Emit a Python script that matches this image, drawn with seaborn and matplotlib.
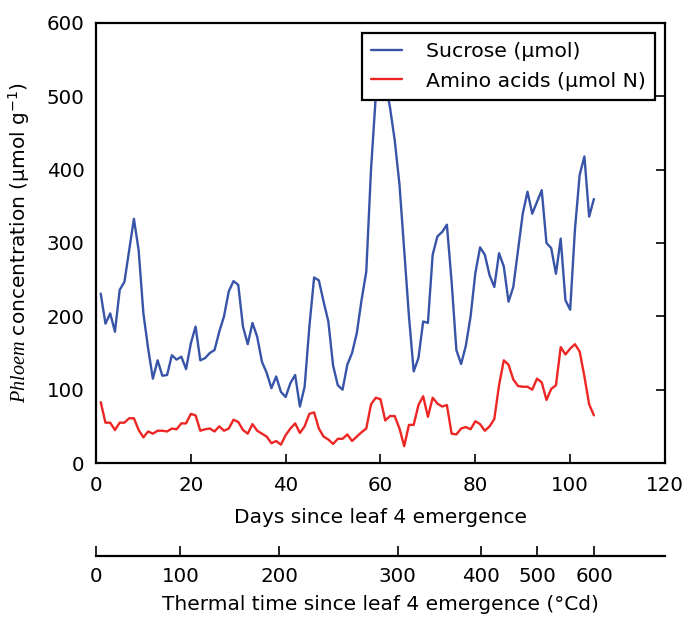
import numpy as np
import pandas as pd
import matplotlib
matplotlib.use("Agg")
import matplotlib.pyplot as plt
import seaborn as sns

# Daily phloem sap concentrations after leaf 4 emergence
days = list(range(1, 106))

sucrose = [
    231, 190, 204, 179, 236, 247, 290, 333, 290, 204,
    156, 115, 140, 119, 120, 147, 141, 145, 128, 163,
    186, 140, 143, 150, 154, 179, 200, 234, 248, 243,
    186, 162, 191, 172, 138, 123, 102, 118, 97, 90,
    109, 120, 77, 104, 186, 253, 249, 220, 193, 133,
    106, 100, 134, 150, 177, 222, 261, 400, 500, 560,
    520, 485, 440, 380, 290, 200, 125, 143, 193, 191,
    284, 309, 315, 325, 247, 154, 135, 160, 200, 259,
    294, 284, 256, 240, 286, 268, 220, 240, 290, 340,
    370, 340, 356, 372, 300, 293, 258, 306, 222, 209,
    318, 393, 418, 336, 360,
]

amino_acids = [
    83, 55, 55, 45, 55, 55, 61, 61, 45, 35,
    43, 40, 44, 44, 43, 47, 46, 54, 54, 67,
    65, 44, 46, 47, 43, 50, 44, 47, 59, 56,
    45, 40, 53, 44, 40, 36, 27, 30, 25, 38,
    47, 54, 41, 50, 67, 69, 47, 36, 32, 26,
    33, 33, 39, 30, 36, 42, 47, 80, 89, 87,
    58, 64, 64, 47, 23, 52, 52, 79, 91, 63,
    89, 81, 77, 79, 40, 39, 47, 49, 46, 57,
    53, 44, 50, 60, 106, 140, 134, 114, 105, 104,
    104, 100, 115, 110, 86, 101, 106, 158, 148, 156,
    162, 152, 118, 80, 65,
]

series_labels = ["Sucrose (µmol)", "Amino acids (µmol N)"]
series_colors = ["#3754a8", "#ed2624"]

# Thermal time (°Cd) reached on a given day since leaf 4 emergence
thermal_ticks = [0, 100, 200, 300, 400, 500, 600]
thermal_tick_days = [0, 17.8, 38.6, 63.6, 81.2, 93.1, 105.1]

day_ticks = [0, 20, 40, 60, 80, 100, 120]
conc_ticks = [0, 100, 200, 300, 400, 500, 600]

sns.set_theme(style="white")
plt.rcParams.update({
    "font.family": ["DejaVu Sans"],
    "mathtext.fontset": "custom",
    "mathtext.it": "Liberation Serif:italic",
    "mathtext.rm": "DejaVu Sans",
    "font.size": 14,
    "axes.edgecolor": "black",
    "text.color": "black",
    "axes.labelcolor": "black",
    "xtick.color": "black",
    "ytick.color": "black",
})

df = pd.DataFrame({
    "day": days * 2,
    "conc": sucrose + amino_acids,
    "series": [series_labels[0]] * len(days) + [series_labels[1]] * len(days),
})

fig = plt.figure(figsize=(6.88, 6.18), dpi=100)
ax = fig.add_axes([0.1395, 0.2508, 0.8271, 0.712])

sns.lineplot(data=df, x="day", y="conc", hue="series",
             palette=dict(zip(series_labels, series_colors)),
             linewidth=1.7, ax=ax, legend=False)

ax.set_xlim(0, 120)
ax.set_ylim(0, 600)
ax.set_xticks(day_ticks)
ax.set_yticks(conc_ticks)
ax.tick_params(axis="both", direction="in", length=6.5, width=1.2,
               labelsize=14.3, colors="black")
ax.tick_params(axis="x", pad=9)
ax.tick_params(axis="y", pad=8, right=True)
for sp in ax.spines.values():
    sp.set_linewidth(1.6)
    sp.set_color("black")

ax.set_xlabel("Days since leaf 4 emergence", fontsize=14.5, labelpad=10)
ax.set_ylabel(r"$Phloem$ concentration (µmol g$^{-1}$)", fontsize=14.5,
              labelpad=11)

handles = [plt.Line2D([], [], color=c, linewidth=1.7) for c in series_colors]
leg = ax.legend(handles, series_labels, loc="upper right", fontsize=14.7,
                frameon=True, fancybox=False, framealpha=1,
                handlelength=1.55, handletextpad=1.15, borderpad=0.45,
                borderaxespad=0.5)
leg.get_frame().set_edgecolor("black")
leg.get_frame().set_linewidth(1.6)

# Second scale below the day axis: thermal time
ax2 = ax.twiny()
ax2.set_xlim(ax.get_xlim())
ax2.xaxis.set_ticks_position("bottom")
ax2.xaxis.set_label_position("bottom")
ax2.spines["bottom"].set_position(("outward", 67))
for name in ["top", "left", "right"]:
    ax2.spines[name].set_visible(False)
ax2.spines["bottom"].set_linewidth(1.6)
ax2.spines["bottom"].set_color("black")
ax2.set_xticks(thermal_tick_days)
ax2.set_xticklabels([str(t) for t in thermal_ticks])
ax2.tick_params(axis="x", direction="in", length=7, width=1.2, pad=8,
                labelsize=14.3, colors="black")
ax2.set_xlabel("Thermal time since leaf 4 emergence (°Cd)", fontsize=14.5,
               labelpad=6)

fig.savefig("out.png", dpi=100)
